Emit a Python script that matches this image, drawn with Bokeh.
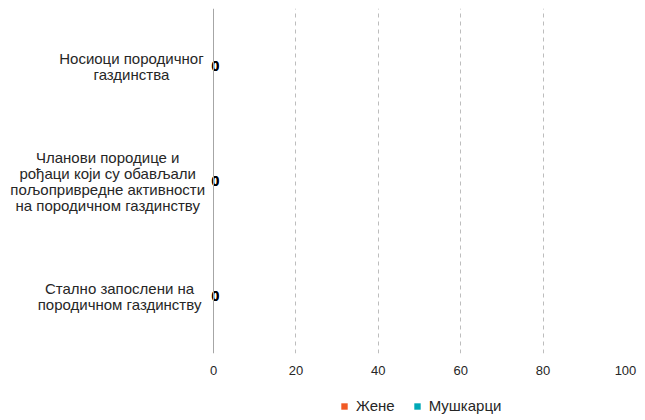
from bokeh.plotting import figure
from bokeh.layouts import column
from bokeh.models import (Legend, LegendItem, Span, Range1d, FixedTicker,
                          ColumnDataSource)
from bokeh.core.properties import value
from bokeh.embed import file_html
from bokeh.resources import INLINE

# ---- data ----
categories = [
    "Носиоци породичног\nгаздинства",
    "Чланови породице и\nрођаци који су обављали\nпољопривредне активности\nна породичном газдинству",
    "Стално запослени на\nпородичном газдинству",
]
women = [0, 0, 0]
men = [0, 0, 0]
series_names = ["Жене", "Мушкарци"]
x_ticks = [0, 20, 40, 60, 80, 100]

colors = ["#F15A24", "#00A8B6"]
FONT = "Liberation Sans"
TEXT = "#262626"

n = len(categories)
ypos = [n - i - 0.5 for i in range(n)]

# frame spans page x 0..625; value 0 sits at x=213, 100 at x=625
LEFT_PX, PLOT_PX = 213, 412
x_start = -x_ticks[-1] * LEFT_PX / PLOT_PX

p = figure(width=645, height=380, output_backend="svg", toolbar_location=None,
           x_range=Range1d(x_start, x_ticks[-1]), y_range=Range1d(0, n),
           y_axis_location=None,
           min_border_left=0, min_border_right=20, min_border_top=8,
           min_border_bottom=27)
p.outline_line_color = None
p.ygrid.visible = False

p.xgrid.ticker = FixedTicker(ticks=x_ticks[1:])
p.xgrid.grid_line_color = "#bdbdbd"
p.xgrid.grid_line_dash = "4 4"
p.xgrid.grid_line_width = 1

xa = p.xaxis[0]
xa.ticker = FixedTicker(ticks=x_ticks)
xa.axis_line_color = None
xa.major_tick_line_color = None
xa.minor_tick_line_color = None
xa.major_label_standoff = 6
xa.major_label_text_font = FONT
xa.major_label_text_font_size = "13px"
xa.major_label_text_color = TEXT

p.add_layout(Span(location=0, dimension="height", line_color="#a6a6a6", line_width=1))

for vals, col in zip([women, men], colors):
    src = ColumnDataSource(dict(y=ypos, v=vals, t=[str(v) for v in vals]))
    p.hbar(y="y", left=0, right="v", height=0.3, source=src,
           fill_color=col, line_color=None)
    p.text(x="v", y="y", text="t", source=src, x_offset=2,
           text_align="center", text_baseline="middle",
           text_font=value(FONT), text_font_size="14px",
           text_font_style="bold", text_color="#000000")

# category labels: each line centred, block's right edge near the axis
lx, ly, lt, lxo, lyo = [], [], [], [], []
for cat, y in zip(categories, ypos):
    lines = cat.split("\n")
    w = max(len(s) for s in lines) * 7.9
    k = len(lines)
    for j, s in enumerate(lines):
        lx.append(0)
        ly.append(y)
        lt.append(s)
        lxo.append(-(11 + w / 2))
        lyo.append((j - (k - 1) / 2) * 16)
p.text(x="x", y="y", text="t", x_offset="xo", y_offset="yo",
       source=ColumnDataSource(dict(x=lx, y=ly, t=lt, xo=lxo, yo=lyo)),
       text_align="center", text_baseline="middle",
       text_font=value(FONT), text_font_size="15px", text_color=TEXT)

# legend strip below the chart
lg = figure(width=645, height=40, output_backend="svg", toolbar_location=None,
            x_range=Range1d(0, 1), y_range=Range1d(0, n),
            x_axis_location=None, y_axis_location=None,
            min_border_left=0, min_border_right=0, min_border_top=0,
            min_border_bottom=0)
lg.outline_line_color = None
lg.grid.visible = False
leg_r = []
for vals, col in zip([women, men], colors):
    leg_r.append(lg.hbar(y=ypos, left=0, right=vals, height=0.3,
                         fill_color=col, line_color=None))
legend = Legend(items=[LegendItem(label=nm, renderers=[r]) for nm, r in zip(series_names, leg_r)],
                orientation="horizontal", location=(340, 6),
                glyph_width=8, glyph_height=8, label_height=15,
                label_standoff=8, spacing=18, padding=0, margin=0,
                border_line_color=None, background_fill_alpha=0,
                label_text_font=FONT, label_text_font_size="15px",
                label_text_color=TEXT)
lg.add_layout(legend, "center")

open("out.html", "w").write(file_html(column(p, lg, spacing=0), INLINE))
